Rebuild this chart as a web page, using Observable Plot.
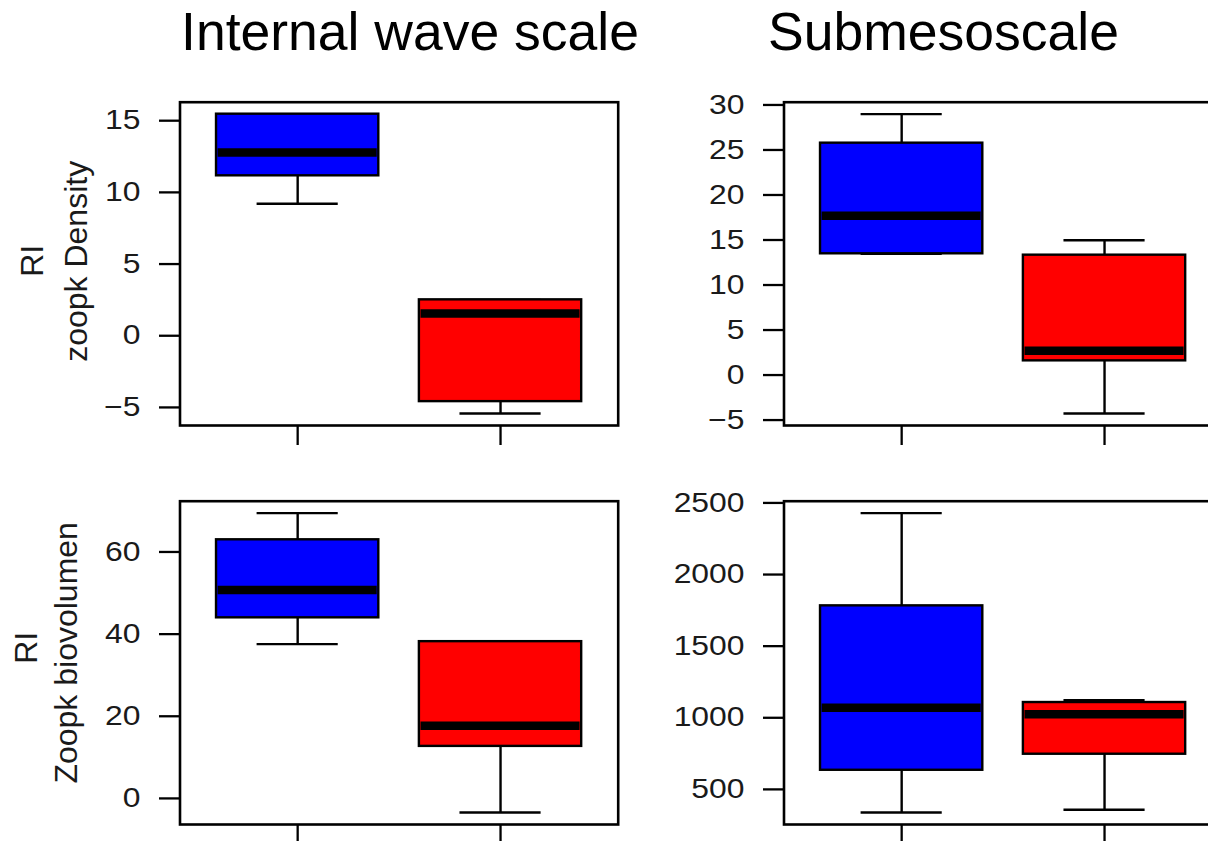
<!DOCTYPE html>
<html>
<head>
<meta charset="utf-8">
<script src="https://cdn.jsdelivr.net/npm/d3@7"></script>
<script src="https://cdn.jsdelivr.net/npm/@observablehq/plot@0.6"></script>
<style>
  html, body { margin: 0; padding: 0; background: #fff; }
  #fig { position: relative; width: 1208px; height: 841px; overflow: hidden; background: #fff;
         font-family: "Liberation Sans", Arial, Helvetica, sans-serif; }
  .title { position: absolute; top: 4.5px; width: 600px; text-align: center; font-size: 53.5px;
           line-height: 53.5px; color: #000; white-space: nowrap; }
  .panel { position: absolute; width: 640px; height: 375px; }
  .panel svg { max-width: none !important; }
</style>
</head>
<body>
<div id="fig"></div>
<script>
// Column titles
const columnTitles = ["Internal wave scale", "Submesoscale"];
// Two groups per panel, drawn at x = 1 and x = 2
const groups = [1, 2];
const groupFills = ["#0000ff", "#ff0000"];

// Box summaries per group: [lower whisker, Q1, median, Q3, upper whisker]
const densityInternalWave = [
  [9.1, 11.05, 12.67, 15.35, 15.35],
  [-5.53, -4.70, 1.44, 2.40, 2.40]
];
const densitySubmesoscale = [
  [13.3, 13.3, 17.52, 25.59, 28.81],
  [-4.44, 1.41, 2.52, 13.15, 14.81]
];
const biovolInternalWave = [
  [37.2, 43.6, 50.4, 62.6, 69.08],
  [-3.8, 12.3, 17.3, 37.8, 37.8]
];
const biovolSubmesoscale = [
  [328, 623, 1059, 1771, 2418],
  [347, 735, 1015, 1096, 1112]
];

// Y-axis tick values
const densityInternalTicks = [-5, 0, 5, 10, 15];
const densitySubmesoTicks = [-5, 0, 5, 10, 15, 20, 25, 30];
const biovolInternalTicks = [0, 20, 40, 60];
const biovolSubmesoTicks = [500, 1000, 1500, 2000, 2500];

// Y-axis titles (two lines each)
const densityLabel = ["RI", "zoopk Density"];
const biovolLabel = ["RI", "Zoopk biovolumen"];

const FONT = '"Liberation Sans", Arial, Helvetica, sans-serif';
const tickFmt = d3.format("d");

function toRows(stats) {
  return stats.map((s, i) => ({
    g: groups[i], fill: groupFills[i],
    lo: s[0], q1: s[1], med: s[2], q3: s[3], hi: s[4]
  }));
}

function boxPanel({stats, ticks, label, labelOffsets}) {
  const rows = toRows(stats);
  const lo = d3.min(rows, d => d.lo), hi = d3.max(rows, d => d.hi);
  const pad = (hi - lo) * 0.04;
  const W = 640, H = 375;
  const halfBox = 0.4, halfCap = 0.2;
  const lw = 2.4;
  const marks = [
    // whiskers
    Plot.ruleX(rows, {x: "g", y1: "q3", y2: "hi", stroke: "#000", strokeWidth: lw}),
    Plot.ruleX(rows, {x: "g", y1: "lo", y2: "q1", stroke: "#000", strokeWidth: lw}),
    // whisker caps
    Plot.ruleY(rows, {y: "hi", x1: d => d.g - halfCap, x2: d => d.g + halfCap, stroke: "#000", strokeWidth: lw}),
    Plot.ruleY(rows, {y: "lo", x1: d => d.g - halfCap, x2: d => d.g + halfCap, stroke: "#000", strokeWidth: lw}),
    // boxes
    Plot.rect(rows, {x1: d => d.g - halfBox, x2: d => d.g + halfBox, y1: "q1", y2: "q3",
      fill: "fill", stroke: "#000", strokeWidth: lw}),
    // medians
    Plot.ruleY(rows, {y: "med", x1: d => d.g - halfBox + 0.008, x2: d => d.g + halfBox - 0.008,
      stroke: "#000", strokeWidth: 8.5}),
    Plot.frame({stroke: "#000", strokeWidth: 2.6}),
    Plot.axisY(ticks, {tickSize: 20.5, tickPadding: 19, fontSize: 27, stroke: "#000",
      strokeWidth: 2.3, fill: "#1a1a1a", dy: 1.5, label: null, tickFormat: tickFmt}),
    Plot.axisX(groups, {tickSize: 20, tickFormat: () => "", stroke: "#000", strokeWidth: 2.3, label: null})
  ];
  if (label) {
    label.forEach((line, i) => {
      marks.push(Plot.text([line], {
        text: d => d, frameAnchor: "left", textAnchor: "middle", rotate: -90,
        fontSize: 32, fill: "#1a1a1a",
        dx: labelOffsets[i][0], dy: labelOffsets[i][1]
      }));
    });
  }
  const svg = Plot.plot({
    width: W, height: H,
    marginLeft: 179.5, marginRight: W - 179.5 - 438.2,
    marginTop: 21.7, marginBottom: H - 21.7 - 323.3,
    x: {type: "linear", domain: [0.42, 2.58], axis: null},
    y: {domain: [lo - pad, hi + pad], axis: null},
    color: {type: "identity"},
    style: {fontFamily: FONT, background: "transparent", overflow: "visible", maxWidth: "none"},
    marks
  });
  // tick labels are drawn slightly wide, stretched horizontally about their anchor
  svg.querySelectorAll('g[aria-label="y-axis tick label"] text').forEach(t => {
    const tr = t.getAttribute("transform");
    if (tr) t.setAttribute("transform", tr + " scale(1.18,1)");
    else {
      const x = +t.getAttribute("x") || 0, y = +t.getAttribute("y") || 0;
      t.setAttribute("transform", `translate(${x},${y}) scale(1.18,1) translate(${-x},${-y})`);
    }
  });
  return svg;
}

const fig = document.getElementById("fig");

// column titles
[[410, 0], [943.5, 1]].forEach(([cx, i]) => {
  const div = document.createElement("div");
  div.className = "title";
  div.style.left = (cx - 300) + "px";
  div.textContent = columnTitles[i];
  fig.appendChild(div);
});

const panels = [
  {left: 0, top: 80, stats: densityInternalWave, ticks: densityInternalTicks,
   label: densityLabel, labelOffsets: [[-147.7, -3], [-103.7, -2.5]]},
  {left: 604, top: 80, stats: densitySubmesoscale, ticks: densitySubmesoTicks},
  {left: 0, top: 479, stats: biovolInternalWave, ticks: biovolInternalTicks,
   label: biovolLabel, labelOffsets: [[-153, -15], [-113.7, -10]]},
  {left: 604, top: 479, stats: biovolSubmesoscale, ticks: biovolSubmesoTicks}
];

panels.forEach(p => {
  const wrap = document.createElement("div");
  wrap.className = "panel";
  wrap.style.left = p.left + "px";
  wrap.style.top = p.top + "px";
  wrap.appendChild(boxPanel(p));
  fig.appendChild(wrap);
});
</script>
</body>
</html>
